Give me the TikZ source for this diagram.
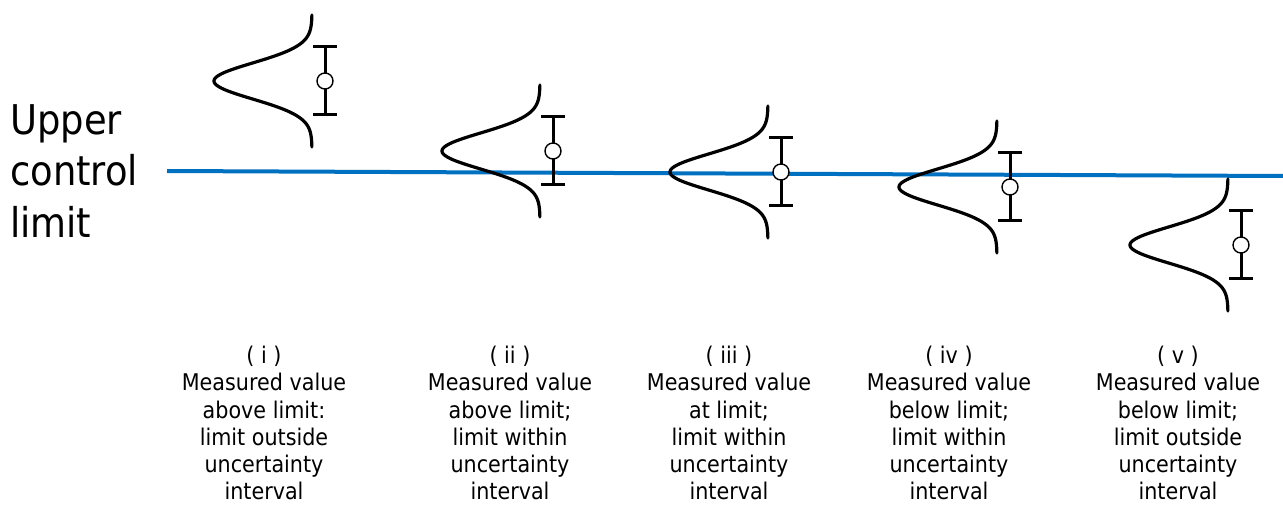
\documentclass[tikz,border=0pt]{standalone}
\usepackage{fontspec}
\setmainfont{DejaVu Sans}[FakeStretch=0.9]
\definecolor{ucl}{RGB}{0,112,192}
\tikzset{
  curve/.style={line width=3.2pt, black, line cap=round},
  bar/.style={line width=3pt, black},
  meas/.style={circle, draw=black, fill=white, line width=1.4pt, minimum size=16pt, inner sep=0pt},
  limitline/.style={line width=4pt, ucl},
  caption/.style={align=center, anchor=north, inner sep=0pt, font=\fontsize{23}{27.2}\selectfont},
  bigtext/.style={align=left, anchor=north west, inner sep=0pt, font=\fontsize{41}{51.5}\selectfont}
}
\begin{document}
\begin{tikzpicture}[x=1pt,y=-1pt]
\useasboundingbox (0,0) rectangle (1283,505);
% limit line
\coordinate (L1) at (167,171);
\coordinate (L2) at (1283,176);
\draw[limitline] (L1) -- (L2);
\node[bigtext] (ucl) at (10,104) {Upper\\control\\limit};
% distributions
\foreach \T/\c/\n in {312/81/1, 540/151/2, 768/172/3, 997/187/4, 1228/245/5}{
  \draw[curve] plot[domain=-66:66, samples=100, smooth] ({\T-98*exp(-(\x*\x)/648)},{\c+\x});
  \coordinate (bt\n) at (\T+13,\c-34);
  \coordinate (bb\n) at (\T+13,\c+34);
  \coordinate (btl\n) at (\T+1,\c-34);
  \coordinate (btr\n) at (\T+25,\c-34);
  \coordinate (bbl\n) at (\T+1,\c+34);
  \coordinate (bbr\n) at (\T+25,\c+34);
  \draw[bar] (bt\n) -- (bb\n);
  \draw[bar] (btl\n) -- (btr\n);
  \draw[bar] (bbl\n) -- (bbr\n);
  \node[meas] (m\n) at (\T+13,\c) {};
}
% captions
\node[caption] (c1) at (264,346) {( i )\\Measured value\\above limit:\\limit outside\\uncertainty\\interval};
\node[caption] (c2) at (510,346) {( ii )\\Measured value\\above limit;\\limit within\\uncertainty\\interval};
\node[caption] (c3) at (729,346) {( iii )\\Measured value\\at limit;\\limit within\\uncertainty\\interval};
\node[caption] (c4) at (949,346) {( iv )\\Measured value\\below limit;\\limit within\\uncertainty\\interval};
\node[caption] (c5) at (1178,346) {( v )\\Measured value\\below limit;\\limit outside\\uncertainty\\interval};
\end{tikzpicture}
\end{document}
